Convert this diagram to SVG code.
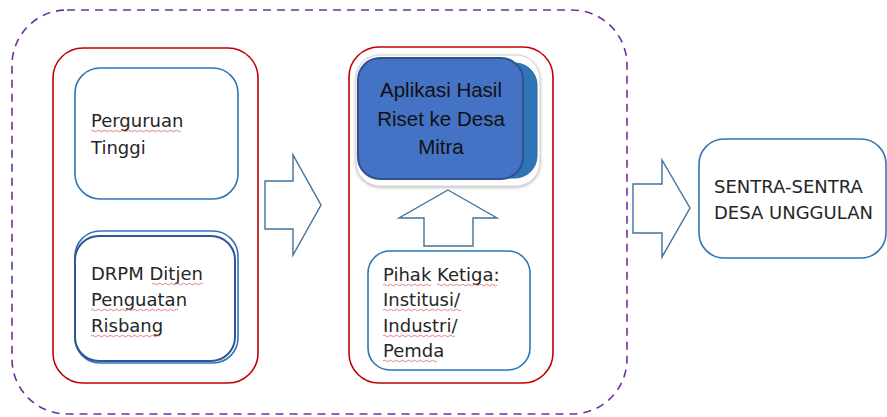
<svg xmlns="http://www.w3.org/2000/svg" width="887" height="417" viewBox="0 0 887 417">
<defs>
<style>
.t{font-family:"DejaVu Sans","Noto Sans",sans-serif;font-size:18px;fill:#262626}
.c{font-family:"Liberation Sans","Noto Sans",sans-serif;font-size:20.5px;fill:#111;text-anchor:middle}
.red{fill:#fff;stroke:#c00000;stroke-width:1.6}
.blue{fill:#fff;stroke:#2e75b6;stroke-width:1.6}
.arrow{fill:#fff;stroke:#41719c;stroke-width:1.4}
.sq{fill:none;stroke:#e06060;stroke-width:0.8}
</style>
<filter id="sh" x="-10%" y="-10%" width="120%" height="130%">
<feDropShadow dx="0" dy="1" stdDeviation="1.5" flood-color="#000" flood-opacity="0.3"/>
</filter>
</defs>
<rect width="887" height="417" fill="#fff"/>
<g id="outer">
<rect x="12" y="10" width="615" height="404" rx="55" fill="none" stroke="#7030a0" stroke-width="1.6" stroke-dasharray="8,6"/>
</g>
<g id="left-group">
<rect class="red" x="53" y="48" width="205" height="335" rx="30"/>
</g>
<g id="perguruan">
<rect class="blue" x="75" y="68" width="163" height="131" rx="25"/>
<text class="t" x="91" y="127">Perguruan</text>
<text class="t" x="91" y="154">Tinggi</text>
<path class="sq" d="M91,131 q1.5,-1.5 3,0 t3,0 t3,0 t3,0 t3,0 t3,0 t3,0 t3,0 t3,0 t3,0 t3,0 t3,0 t3,0 t3,0 t3,0 t3,0 t3,0 t3,0 t3,0 t3,0 t3,0 t3,0 t3,0 t3,0 t3,0 t3,0 t3,0 t3,0 t3,0 t3,0"/>
</g>
<g id="drpm">
<rect class="blue" x="75" y="231" width="163" height="132" rx="25"/>
<rect x="75" y="236" width="160" height="125" rx="24" fill="none" stroke="#2f5597" stroke-width="2"/>
<text class="t" x="91" y="280">DRPM Ditjen</text>
<text class="t" x="91" y="306">Penguatan</text>
<text class="t" x="91" y="332">Risbang</text>
<path class="sq" d="M152,284 q1.5,-1.5 3,0 t3,0 t3,0 t3,0 t3,0 t3,0 t3,0 t3,0 t3,0 t3,0 t3,0 t3,0 t3,0 t3,0 t3,0 t3,0 t3,0"/>
<path class="sq" d="M91,310 q1.5,-1.5 3,0 t3,0 t3,0 t3,0 t3,0 t3,0 t3,0 t3,0 t3,0 t3,0 t3,0 t3,0 t3,0 t3,0 t3,0 t3,0 t3,0 t3,0 t3,0 t3,0 t3,0 t3,0 t3,0 t3,0 t3,0 t3,0 t3,0 t3,0 t3,0"/>
<path class="sq" d="M91,336 q1.5,-1.5 3,0 t3,0 t3,0 t3,0 t3,0 t3,0 t3,0 t3,0 t3,0 t3,0 t3,0 t3,0 t3,0 t3,0 t3,0 t3,0 t3,0 t3,0 t3,0 t3,0 t3,0 t3,0 t3,0"/>
</g>
<g id="middle-group">
<rect class="red" x="349" y="47" width="204" height="336" rx="30"/>
</g>
<g id="aplikasi">
<rect x="356" y="55" width="184" height="131" rx="24" fill="#fff" stroke="#d0d0d0" stroke-width="1" filter="url(#sh)"/>
<rect x="372" y="63" width="165" height="115" rx="22" fill="#2e75b6" stroke="#2a6aa5" stroke-width="1"/>
<rect x="358" y="58" width="165" height="121" rx="22" fill="#4472c4" stroke="#2f528f" stroke-width="2"/>
<text class="c" x="441" y="97">Aplikasi Hasil</text>
<text class="c" x="441" y="126">Riset ke Desa</text>
<text class="c" x="441" y="154">Mitra</text>
</g>
<g id="pihak">
<rect class="blue" x="368" y="251" width="162" height="119" rx="22"/>
<text class="t" x="383" y="281">Pihak Ketiga:</text>
<text class="t" x="383" y="306">Institusi/</text>
<text class="t" x="383" y="332">Industri/</text>
<text class="t" x="383" y="357">Pemda</text>
<path class="sq" d="M383,285 q1.5,-1.5 3,0 t3,0 t3,0 t3,0 t3,0 t3,0 t3,0 t3,0 t3,0 t3,0 t3,0 t3,0 t3,0 t3,0 t3,0 t3,0"/>
<path class="sq" d="M437,285 q1.5,-1.5 3,0 t3,0 t3,0 t3,0 t3,0 t3,0 t3,0 t3,0 t3,0 t3,0 t3,0 t3,0 t3,0 t3,0 t3,0 t3,0 t3,0 t3,0 t3,0 t3,0"/>
<path class="sq" d="M383,310 q1.5,-1.5 3,0 t3,0 t3,0 t3,0 t3,0 t3,0 t3,0 t3,0 t3,0 t3,0 t3,0 t3,0 t3,0 t3,0 t3,0 t3,0 t3,0 t3,0 t3,0 t3,0 t3,0 t3,0 t3,0 t3,0 t3,0 t3,0"/>
<path class="sq" d="M383,336 q1.5,-1.5 3,0 t3,0 t3,0 t3,0 t3,0 t3,0 t3,0 t3,0 t3,0 t3,0 t3,0 t3,0 t3,0 t3,0 t3,0 t3,0 t3,0 t3,0 t3,0 t3,0 t3,0 t3,0 t3,0 t3,0"/>
<path class="sq" d="M383,361 q1.5,-1.5 3,0 t3,0 t3,0 t3,0 t3,0 t3,0 t3,0 t3,0 t3,0 t3,0 t3,0 t3,0 t3,0 t3,0 t3,0 t3,0 t3,0 t3,0"/>
</g>
<g id="sentra">
<rect class="blue" x="699" y="139" width="187" height="119" rx="25"/>
<text class="t" x="714" y="193">SENTRA-SENTRA</text>
<text class="t" x="714" y="219">DESA UNGGULAN</text>
</g>
<g id="connectors">
<path class="arrow" d="M265,181 H293 V155 L321,205 L293,255 V229 H265 Z"/>
<path class="arrow" d="M448,190 L497,218 H473 V246 H424 V218 H399 Z"/>
<path class="arrow" d="M633,184 H662 V160 L690,208 L662,257 V233 H633 Z"/>
</g>
</svg>
